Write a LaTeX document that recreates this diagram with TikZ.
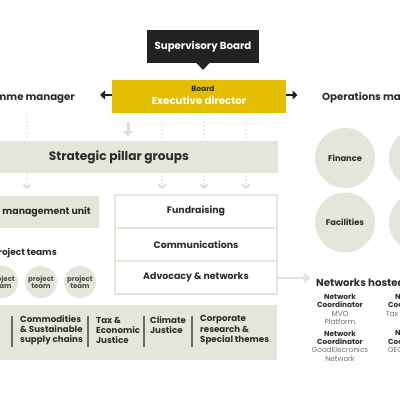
\documentclass[tikz,border=0pt]{standalone}
\usepackage{fontspec}
\setmainfont{Poppins}
\usetikzlibrary{arrows.meta}
\definecolor{beige}{HTML}{E6E5DA}
\definecolor{gold}{HTML}{E3BE00}
\definecolor{ink}{HTML}{222222}
\definecolor{txt}{HTML}{2B2B2B}
\definecolor{dotc}{HTML}{DCDCD2}
\definecolor{greytext}{HTML}{707070}
\definecolor{sep}{HTML}{6A6A64}
\tikzset{
  fnt/.style={font=\bfseries\fontsize{#1}{13}\selectfont},
  beigebox/.style={fill=beige, draw=none, inner sep=0pt},
  stackbox/.style={draw=beige, line width=2pt, fill=white, minimum width=162pt, minimum height=33pt, inner sep=0pt,
    font=\bfseries\fontsize{9.4}{11}\selectfont, text=txt},
  dotline/.style={dotc, line width=1.8pt, line cap=round, dash pattern=on 0pt off 3.8pt},
  chev/.style={dotline, -{Straight Barb[length=3pt,width=7pt,line width=2pt]}},
  darkarrow/.style={ink, line width=2.5pt, -{Triangle[length=5pt,width=9pt]}},
  bigcircle/.style={circle, fill=beige, minimum size=60pt, inner sep=0pt, font=\bfseries\fontsize{8.3}{9}\selectfont, text=txt},
  pcircle/.style={circle, fill=beige, minimum size=32pt, inner sep=0pt, align=center,
    font=\bfseries\fontsize{7}{7.2}\selectfont, text=black!70},
  netw/.style={align=center, font=\fontsize{7.3}{8.4}\selectfont, text=txt},
  striptxt/.style={align=left, anchor=west, font=\bfseries\fontsize{8.7}{10.3}\selectfont, text=txt, inner sep=0pt},
  sepline/.style={sep, line width=1.2pt}
}
\begin{document}
\begin{tikzpicture}[x=1pt,y=-1pt]
\useasboundingbox (0,0) rectangle (400,400);
\clip (0,0) rectangle (400,400);

% Supervisory board
\node[fill=ink, minimum width=112pt, minimum height=33pt, inner sep=0pt, fnt=10.2, text=white] (sup) at (203,46.5) {Supervisory Board};
\fill[ink] (196,62.5) -- (210,62.5) -- (203,70) -- cycle;

% Executive director
\node[fill=gold, minimum width=174pt, minimum height=33pt, inner sep=0pt] (exec) at (199,96.5) {};
\node[fnt=7.5, text=txt, inner sep=0pt] (board) at (203,89) {Board};
\node[fnt=10.2, text=white, inner sep=0pt] (ed) at (199,100.5) {Executive director};

% side headings
\node[fnt=10.2, text=txt, anchor=east, inner sep=0pt] (pm) at (75,98) {Programme manager};
\node[fnt=10.2, text=txt, anchor=west, inner sep=0pt] (om) at (322,98) {Operations manager};
\coordinate (la) at (100,95);
\coordinate (ra) at (297.5,95);
\draw[darkarrow] (exec.west |- la) -- (la);
\draw[darkarrow] (exec.east |- ra) -- (ra);

% strategic pillar groups
\node[beigebox, minimum width=318pt, minimum height=32pt] (spg) at (119,157) {};
\node[fnt=12.2, text=txt, inner sep=0pt] (spgt) at (119,157) {Strategic pillar groups};

% connectors above
\coordinate (d0a) at (27,114); \coordinate (d0b) at (27,140);
\draw[dotline] (d0a) -- (d0b);
\coordinate (s1a) at (128,122); \coordinate (s1b) at (128,136);
\draw[dotc, line width=3pt, -{Triangle[length=5pt,width=10pt]}] (s1a) -- (s1b);
\foreach \x [count=\i] in {162,204,246}{
  \coordinate (ua\i) at (\x,122); \coordinate (ub\i) at (\x,140);
  \draw[dotline] (ua\i) -- (ub\i);
}
% connectors below
\coordinate (c0a) at (27,175); \coordinate (c0b) at (27,189);
\draw[chev] (c0a) -- (c0b);
\foreach \x [count=\i] in {162,204,246}{
  \coordinate (ca\i) at (\x,176); \coordinate (cb\i) at (\x,189);
  \draw[chev] (ca\i) -- (cb\i);
}

% programme management unit
\node[beigebox, minimum width=160pt, minimum height=32pt] (pmu) at (19,212) {};
\node[fnt=9.4, text=txt, anchor=east, inner sep=0pt] (pmut) at (91,212) {Programme management unit};

% stacked boxes
\node[stackbox] (fund) at (196,211.5) {Fundraising};
\node[stackbox] (comm) at (196,244.5) {Communications};
\node[stackbox] (adv) at (196,277.5) {Advocacy \& networks};

% project teams
\node[fnt=9, text=txt, anchor=east, inner sep=0pt] (pt) at (57,253) {Project teams};
\node[pcircle] (p1) at (2,282) {project\\team};
\node[pcircle] (p2) at (41,282) {project\\team};
\node[pcircle] (p3) at (80,282) {project\\team};

% bottom strip
\node[beigebox, minimum width=297pt, minimum height=55pt] (strip) at (128.5,332.5) {};
\foreach \x [count=\i] in {12,88,144,192}{
  \coordinate (sa\i) at (\x,316); \coordinate (sb\i) at (\x,347);
  \draw[sepline] (sa\i) -- (sb\i);
}
\node[striptxt] (t1) at (20,330.3) {Commodities\\\& Sustainable\\supply chains};
\node[striptxt] (t2) at (96,330.3) {Tax \&\\Economic\\Justice};
\node[striptxt] (t3) at (150,325.2) {Climate\\Justice};
\node[striptxt] (t4) at (200,330.3) {Corporate\\research \&\\Special themes};

% operations circles
\node[bigcircle] (fin) at (345,158) {Finance};
\node[bigcircle] (fac) at (345,222.5) {Facilities};
\node[bigcircle] (oc1) at (419,158) {};
\node[bigcircle] (oc2) at (419,222.5) {};

% networks hosted
\coordinate (na) at (310.5,278);
\draw[beige, line width=2.5pt, -{Triangle[length=7pt,width=11pt]}] (adv.east |- na) -- (na);
\node[fnt=10.2, text=txt, anchor=west, inner sep=0pt] (nh) at (316,283) {Networks hosted};
\node[netw] (n1) at (340,309.5) {\textbf{Network}\\\textbf{Coordinator}\\{\color{greytext}MVO}\\{\color{greytext}Platform}};
\node[netw] (n2) at (340,346) {\textbf{Network}\\\textbf{Coordinator}\\{\color{greytext}GoodElecronics}\\{\color{greytext}Network}};
\node[netw] (n3) at (411,305.3) {\textbf{Network}\\\textbf{Coordinator}\\{\color{greytext}Tax Justice NL}};
\node[netw] (n4) at (411,341.5) {\textbf{Network}\\\textbf{Coordinator}\\{\color{greytext}OECD Watch}};
\end{tikzpicture}
\end{document}
